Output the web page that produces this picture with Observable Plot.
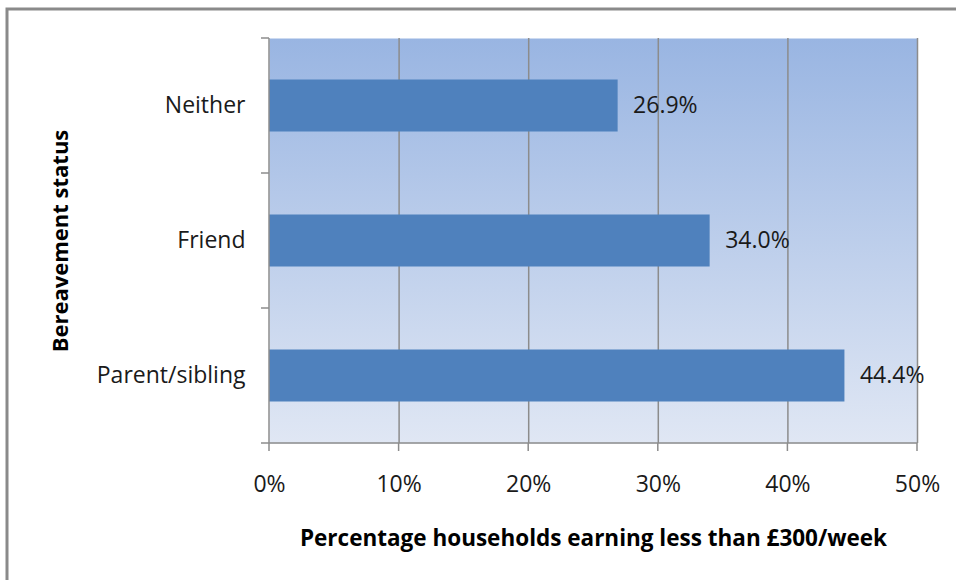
<!DOCTYPE html>
<html>
<head>
<meta charset="utf-8">
<script src="https://cdn.jsdelivr.net/npm/d3@7"></script>
<script src="https://cdn.jsdelivr.net/npm/@observablehq/plot@0.6"></script>
<style>
  html, body { margin: 0; padding: 0; background: #fff; }
  #chart svg { display: block; }
</style>
</head>
<body>
<div id="chart"></div>
<script>
// ---- data ----
const categories = ["Neither", "Friend", "Parent/sibling"];
const values = [26.9, 34.0, 44.4];
const xTicks = [0, 10, 20, 30, 40, 50];
const xTitle = "Percentage households earning less than £300/week";
const yTitle = "Bereavement status";

const data = categories.map((c, i) => ({category: c, value: values[i]}));
const gridColor = "#8c8c8c";

// custom axis lines / ticks drawn from the plot's scales
function axisLines(index, scales, vals, dimensions) {
  const {width, height, marginLeft, marginRight, marginTop, marginBottom} = dimensions;
  const bottom = height - marginBottom, left = marginLeft, right = width - marginRight;
  const g = d3.create("svg:g").attr("stroke", gridColor).attr("stroke-width", 1.5).attr("fill", "none");
  g.append("line").attr("x1", left).attr("x2", left).attr("y1", marginTop).attr("y2", bottom);
  g.append("line").attr("x1", left - 8).attr("x2", right).attr("y1", bottom).attr("y2", bottom);
  for (const t of xTicks) {
    const x = scales.x(t);
    g.append("line").attr("x1", x).attr("x2", x).attr("y1", bottom).attr("y2", bottom + 8);
  }
  for (const c of categories) {
    const y = scales.y(c);
    g.append("line").attr("x1", left - 8).attr("x2", left).attr("y1", y).attr("y2", y);
  }
  return g.node();
}

const plot = Plot.plot({
  width: 956,
  height: 580,
  marginLeft: 269,
  marginRight: 39,
  marginTop: 38,
  marginBottom: 137,
  style: {
    fontFamily: "'Open Sans', sans-serif",
    fontSize: "23px",
    color: "#1a1a1a",
    background: "white",
    overflow: "visible"
  },
  x: {domain: [0, 50], ticks: xTicks, tickFormat: d => d + "%", tickSize: 0, tickPadding: 32, label: null},
  y: {domain: categories, padding: 0, tickSize: 0, tickPadding: 24, label: null},
  marks: [
    Plot.frame({fill: "url(#bggrad)", stroke: null}),
    Plot.ruleX(xTicks.slice(1), {stroke: gridColor, strokeWidth: 1.5}),
    Plot.barX(data, {y: "category", x: "value", fill: "#4F81BD", insetTop: 41.5, insetBottom: 41.5}),
    Plot.text(data, {
      y: "category", x: "value",
      text: d => d.value.toFixed(1) + "%",
      textAnchor: "start", dx: 15, fill: "#1a1a1a", fontSize: 23
    }),
    axisLines,
    Plot.text([xTitle], {
      frameAnchor: "bottom", dy: 95, text: d => d,
      textAnchor: "middle", lineAnchor: "middle",
      fontWeight: "bold", fontSize: 22.5, fill: "#000"
    }),
    Plot.text([yTitle], {
      frameAnchor: "left", dx: -209, text: d => d, rotate: -90,
      textAnchor: "middle", lineAnchor: "middle",
      fontWeight: "bold", fontSize: 22, fill: "#000"
    })
  ]
});

// gradient definition for the plot background
const svg = d3.select(plot);
const defs = svg.insert("defs", ":first-child");
const grad = defs.append("linearGradient").attr("id", "bggrad")
  .attr("x1", "0").attr("y1", "0").attr("x2", "0").attr("y2", "1");
grad.append("stop").attr("offset", "0%").attr("stop-color", "#99B5E2");
grad.append("stop").attr("offset", "100%").attr("stop-color", "#E0E7F4");

// outer chart border (top and left edges visible)
svg.append("path")
  .attr("d", "M7,580V9H956")
  .attr("fill", "none")
  .attr("stroke", "#8a8a8a")
  .attr("stroke-width", 3);

document.getElementById("chart").appendChild(plot);
</script>
</body>
</html>
